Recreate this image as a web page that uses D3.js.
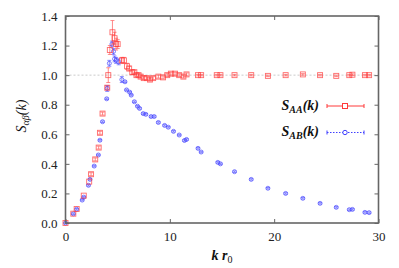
<!DOCTYPE html>
<html><head><meta charset="utf-8">
<script src="https://cdn.jsdelivr.net/npm/d3@7"></script>
<style>body{margin:0;background:#fff}svg{display:block}
svg text{font-family:"Liberation Serif","Times New Roman",serif !important}</style>
</head><body>
<script>
const xTicks = [0, 10, 20, 30];
const yTicks = [0, 0.2, 0.4, 0.6, 0.8, 1.0, 1.2, 1.4];
// S_AA(k): k, value, error
const kAA = [0,0.75,1.07,1.75,2.27,2.45,2.85,3.18,3.3,3.55,4.0,4.1,4.25,4.5,4.7,4.85,5.0,5.4,5.6,5.9,6.1,6.4,6.6,6.8,7.0,7.2,7.5,7.8,8.1,8.4,8.9,9.35,9.75,10.1,10.5,10.9,11.3,11.6,12.7,13.0,14.5,14.85,16.2,17.8,19.4,21.1,22.75,24.4,25.95,27.2,27.5,28.7,29.1];
const sAA = [0,0.063,0.095,0.185,0.28,0.33,0.43,0.51,0.61,0.74,0.915,1.0,1.17,1.29,1.25,1.21,1.21,1.1,1.1,1.06,1.045,1.02,1.02,1.0,1.0,0.99,0.98,0.98,0.97,0.98,0.99,0.985,1.0,1.01,1.01,1.0,0.99,1.005,1.0,1.0,1.0,1.0,1.0,1.0,0.995,1.0,1.005,1.0,0.995,1.0,1.003,1.0,1.0];
const eAA = [0,0,0,0,0,0.01,0.01,0.01,0.01,0.01,0.01,0.05,0.03,0.08,0.04,0.04,0.03,0.02,0.02,0.02,0.015,0.015,0.01,0.01,0.01,0.01,0.01,0.01,0.01,0.01,0.01,0.01,0.01,0.01,0.01,0.01,0.01,0.01,0.005,0.005,0.005,0.005,0.005,0.005,0.005,0.005,0.005,0.005,0.005,0.005,0.005,0.005,0.005];
// S_AB(k)
const kAB = [0,0.75,1.07,1.6,1.75,2.2,2.35,2.75,3.15,3.3,3.55,3.95,4.0,4.2,4.45,4.6,4.7,4.85,5.1,5.4,5.7,5.85,6.15,6.3,6.6,6.9,7.1,7.45,7.7,8.2,8.5,8.9,9.5,9.85,10.35,10.9,11.4,11.6,12.7,13.0,14.6,14.85,16.2,17.8,19.4,21.1,22.75,24.4,25.95,27.2,27.5,28.7,29.1];
const sAB = [0,0.062,0.093,0.155,0.175,0.255,0.295,0.385,0.46,0.56,0.685,0.84,0.91,1.08,1.21,1.16,1.11,1.1,1.09,0.97,0.955,0.9,0.885,0.865,0.82,0.79,0.775,0.74,0.735,0.72,0.72,0.68,0.66,0.648,0.62,0.595,0.558,0.565,0.505,0.48,0.41,0.40,0.347,0.295,0.235,0.20,0.167,0.133,0.106,0.09,0.092,0.072,0.07];
const eAB = kAB.map((k,i)=> (k>=4 && k<=5.5) ? 0.02 : 0.005);

const W = 399, H = 268;
const serif = "Liberation Serif";
const svg = d3.select("body").append("svg").attr("width", W).attr("height", H);
const x = d3.scaleLinear().domain([0, 30]).range([65.5, 378.5]);
const y = d3.scaleLinear().domain([0, 1.4]).range([223, 16]);
const axisCol = "#666";

svg.append("line").attr("x1", x(0)).attr("x2", x(30)).attr("y1", y(1)).attr("y2", y(1))
  .attr("stroke", "#bbb").attr("stroke-width", 0.8).attr("stroke-dasharray", "2,2");

function styleAxis(g, labels) {
  g.select(".domain").remove();
  g.attr("font-family", serif);
  g.selectAll(".tick line").attr("stroke", axisCol).attr("stroke-width", 1);
  g.selectAll(".tick text").attr("font-family", serif).attr("font-size", 13).attr("fill", "#222");
  if (!labels) g.selectAll(".tick text").remove();
}
svg.append("g").attr("transform", `translate(${x(0)},0)`)
  .call(d3.axisLeft(y).tickValues(yTicks).tickFormat(d3.format(".1f")).tickSize(-4).tickPadding(8))
  .call(g => styleAxis(g, true));
svg.append("g").attr("transform", `translate(${x(30)},0)`)
  .call(d3.axisRight(y).tickValues(yTicks).tickSize(-4))
  .call(g => styleAxis(g, false));
svg.append("g").attr("transform", `translate(0,${y(0)})`)
  .call(d3.axisBottom(x).tickValues(xTicks).tickFormat(d3.format("d")).tickSize(-4).tickPadding(9))
  .call(g => styleAxis(g, true));
svg.append("g").attr("transform", `translate(0,${y(1.4)})`)
  .call(d3.axisTop(x).tickValues(xTicks).tickSize(-4))
  .call(g => styleAxis(g, false));

const red = "#ff3a3a", blue = "#4040ff";
const AA = kAA.map((k,i)=>({k, s:sAA[i], e:eAA[i]}));
const AB = kAB.map((k,i)=>({k, s:sAB[i], e:eAB[i]}));

function errBars(data, col) {
  const g = svg.append("g").attr("stroke", col).attr("stroke-width", 0.8).attr("opacity", 0.75);
  data.filter(d=>d.e>0).forEach(d=>{
    const cx = x(d.k), y1 = y(d.s - d.e), y2 = y(d.s + d.e);
    g.append("line").attr("x1",cx).attr("x2",cx).attr("y1",y1).attr("y2",y2);
    g.append("line").attr("x1",cx-2).attr("x2",cx+2).attr("y1",y1).attr("y2",y1);
    g.append("line").attr("x1",cx-2).attr("x2",cx+2).attr("y1",y2).attr("y2",y2);
  });
}
errBars(AB, blue);
errBars(AA, red);

svg.append("g").selectAll("circle").data(AB).join("circle")
  .attr("cx", d=>x(d.k)).attr("cy", d=>y(d.s)).attr("r", 2)
  .attr("fill", "none").attr("stroke", blue).attr("stroke-width", 0.9).attr("opacity", 0.75);
svg.append("g").selectAll("rect").data(AA).join("rect")
  .attr("x", d=>x(d.k)-2.5).attr("y", d=>y(d.s)-2.5).attr("width", 5).attr("height", 5)
  .attr("fill", "none").attr("stroke", red).attr("stroke-width", 0.9).attr("opacity", 0.75);

svg.append("rect").attr("x", x(0)).attr("y", y(1.4)).attr("width", x(30)-x(0)).attr("height", y(0)-y(1.4))
  .attr("fill", "none").attr("stroke", axisCol).attr("stroke-width", 1.6);

function legendLabel(yb, sub) {
  const t = svg.append("text").attr("x", 319).attr("y", yb).attr("text-anchor", "end")
    .attr("font-family", serif).attr("font-size", 14).attr("font-weight", "bold").attr("font-style", "italic").attr("fill", "#111");
  t.append("tspan").text("S");
  t.append("tspan").attr("font-size", 10).attr("dy", 3).text(sub);
  t.append("tspan").attr("dy", -3).text("(k)");
}
legendLabel(110, "AA");
legendLabel(136, "AB");
const lg = svg.append("g");
lg.append("line").attr("x1",327).attr("x2",364).attr("y1",106).attr("y2",106).attr("stroke",red).attr("stroke-width",1);
[327,364].forEach(px=>lg.append("line").attr("x1",px).attr("x2",px).attr("y1",104).attr("y2",108).attr("stroke",red));
lg.append("rect").attr("x",342.5).attr("y",103.5).attr("width",5).attr("height",5).attr("fill","#fff").attr("stroke",red);
lg.append("line").attr("x1",327).attr("x2",364).attr("y1",132.5).attr("y2",132.5).attr("stroke",blue).attr("stroke-width",1).attr("stroke-dasharray","1.5,1.5");
[327,364].forEach(px=>lg.append("line").attr("x1",px).attr("x2",px).attr("y1",130.5).attr("y2",134.5).attr("stroke",blue));
lg.append("circle").attr("cx",345).attr("cy",132.5).attr("r",2.2).attr("fill","#fff").attr("stroke",blue);

const xt = svg.append("text").attr("x", 222).attr("y", 260).attr("text-anchor", "middle")
  .attr("font-family", serif).attr("font-size", 14).attr("font-weight", "bold").attr("font-style", "italic").attr("fill", "#111");
xt.append("tspan").text("k r");
xt.append("tspan").attr("font-size", 10).attr("dy", 3).attr("font-weight","normal").attr("font-style","normal").text("0");

const yt = svg.append("text").attr("transform", "translate(26,116) rotate(-90)").attr("text-anchor", "middle")
  .attr("font-family", serif).attr("font-size", 14).attr("font-style", "italic").attr("fill", "#111");
yt.append("tspan").text("S");
yt.append("tspan").attr("font-size", 10).attr("dy", 3).text("αβ");
yt.append("tspan").attr("dy", -3).text("(k)");
</script>
</body></html>
